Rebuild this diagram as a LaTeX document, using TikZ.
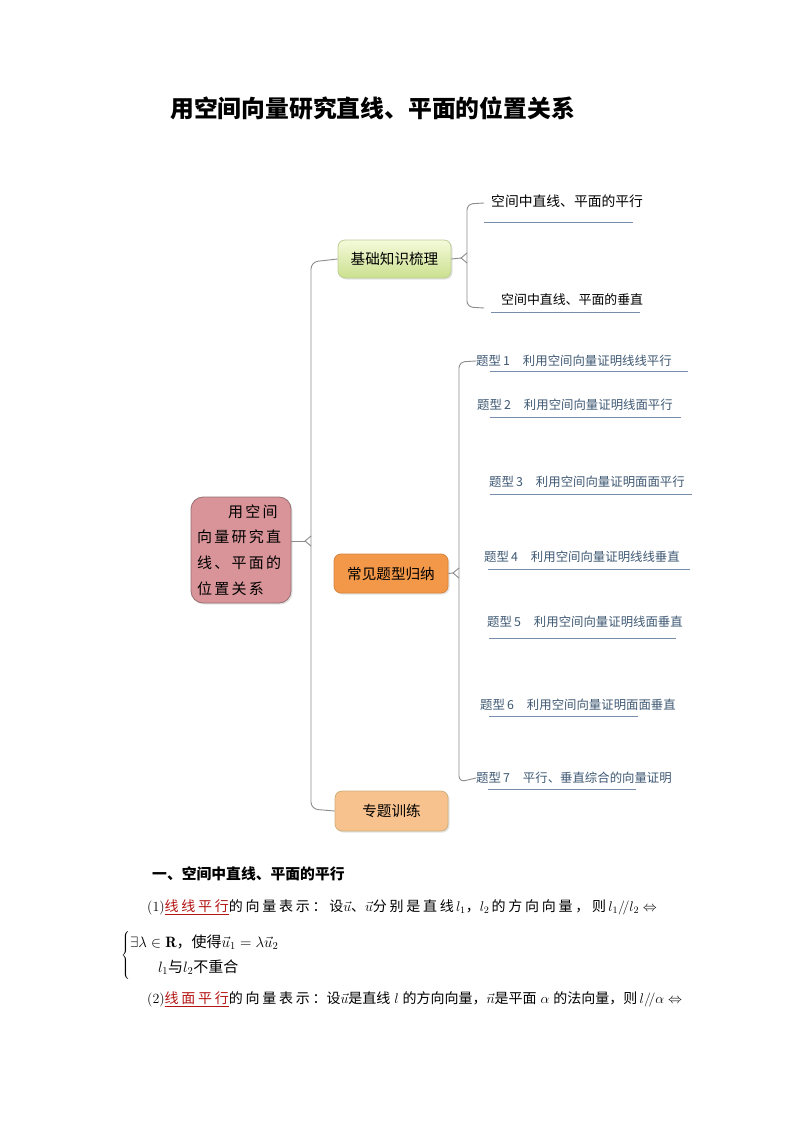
\RequirePackage{fix-cm}
\documentclass[tikz,border=0pt]{standalone}
\usepackage{fontspec}
\newfontfamily\cjk{Noto Sans CJK SC}
\newfontfamily\cjks[LetterSpace=19.5]{Noto Sans CJK SC}
\newfontfamily\cjkt[LetterSpace=0]{Noto Sans CJK SC}
\newfontfamily\cjkr[LetterSpace=15]{Noto Sans CJK SC}
\usetikzlibrary{shadows}
\definecolor{conncol}{RGB}{140,140,140}
\definecolor{ulcol}{RGB}{120,140,172}
\definecolor{topiccol}{RGB}{62,88,115}
\definecolor{rootfill}{RGB}{216,148,152}
\definecolor{rootdraw}{RGB}{150,112,116}
\definecolor{greentop}{RGB}{244,250,218}
\definecolor{greenbot}{RGB}{202,224,142}
\definecolor{greendraw}{RGB}{190,206,150}
\definecolor{orfill}{RGB}{243,152,72}
\definecolor{ordraw}{RGB}{214,132,62}
\definecolor{ltorfill}{RGB}{248,194,142}
\definecolor{ltordraw}{RGB}{205,176,122}
\definecolor{darkred}{RGB}{180,20,20}
\begin{document}
\begin{tikzpicture}[x=1pt,y=-1pt,
  conn/.style={draw=conncol, line width=0.9pt, rounded corners=7pt},
  wedge/.style={draw=conncol, line width=0.9pt},
  uline/.style={draw=ulcol, line width=0.8pt},
  mbox/.style={rounded corners=7pt, text=black, font=\cjk\fontsize{14.6}{17}\selectfont,
    drop shadow={opacity=0.22, shadow xshift=1.5pt, shadow yshift=-1.5pt}},
  topic/.style={anchor=west, inner sep=0pt, text=topiccol, font=\cjk\fontsize{12.4}{14}\selectfont},
  kn/.style={anchor=west, inner sep=0pt, text=black},
  body/.style={anchor=west, inner sep=0pt, text=black, font=\fontsize{14}{16}\selectfont}
]
\useasboundingbox[fill=white] (0,0) rectangle (794,1123);

% title
\node[inner sep=0pt, font=\cjk\bfseries\fontsize{23.8}{28}\selectfont] (title) at (372.5,108) {用空间向量研究直线、平面的位置关系};

% root
\node[mbox, fill=rootfill, draw=rootdraw, line width=0.8pt, rounded corners=12pt,
  minimum width=100, minimum height=106, text width=88, align=left,
  font=\cjkr\fontsize{15}{25.7}\selectfont] (root) at (241,550)
  {\hspace*{31pt}用空间\\向量研究直\\线、平面的\\位置关系};

% level-1 nodes
\node[mbox, top color=greentop, bottom color=greenbot, draw=greendraw, line width=0.8pt,
  minimum width=113, minimum height=38] (basic) at (394.5,259) {基础知识梳理};
\node[mbox, fill=orfill, draw=ordraw, line width=0.8pt,
  minimum width=114, minimum height=39] (types) at (391,573.5) {常见题型归纳};
\node[mbox, fill=ltorfill, draw=ltordraw, line width=0.8pt,
  minimum width=113, minimum height=40] (train) at (391.5,811) {专题训练};

% main bracket
\draw[conn] (basic.west) -- (311,262) -- (311,809) -- (train.west);
\coordinate (rj) at (305,541);
\draw[wedge] ([yshift=9pt]root.east) -- (rj);
\draw[wedge] (311,536) -- (rj) -- (311,546);

% basic knowledge branch
\node[kn, font=\cjk\fontsize{13.8}{16}\selectfont] (k1) at (491,201) {空间中直线、平面的平行};
\node[kn, font=\cjk\fontsize{12.9}{15}\selectfont] (k2) at (501,300) {空间中直线、平面的垂直};
\coordinate (k1e) at (484,203);
\coordinate (k2e) at (484,308);
\coordinate (bj) at (461,258);
\draw[wedge] (basic.east) -- (bj);
\draw[wedge] (467,253) -- (bj) -- (467,263);
\draw[conn, rounded corners=6pt] (k1e) -- (467,204) -- (467,307) -- (k2e);
\draw[uline] (484,222) -- (633,222);
\draw[uline] (491,312) -- (640,312);

% question types
\node[topic] (t1) at (476,361) {题型\,1\hspace{13pt}利用空间向量证明线线平行};
\node[topic] (t2) at (477,405) {题型\,2\hspace{13pt}利用空间向量证明线面平行};
\node[topic] (t3) at (489,482) {题型\,3\hspace{13pt}利用空间向量证明面面平行};
\node[topic] (t4) at (484,557) {题型\,4\hspace{13pt}利用空间向量证明线线垂直};
\node[topic] (t5) at (487,622) {题型\,5\hspace{13pt}利用空间向量证明线面垂直};
\node[topic] (t6) at (480,705) {题型\,6\hspace{13pt}利用空间向量证明面面垂直};
\node[topic] (t7) at (476,778) {题型\,7\hspace{13pt}平行、垂直综合的向量证明};
\coordinate (tj) at (453,573);
\draw[wedge] (types.east) -- (tj);
\draw[wedge] (459,568) -- (tj) -- (459,578);
\draw[conn, rounded corners=6pt] (t1.west) -- (459,362) -- (459,782) -- (t7.west);
\draw[uline] (490,371) -- (688,371);
\draw[uline] (490,417) -- (681,417);
\draw[uline] (490,494) -- (692,494);
\draw[uline] (488,569) -- (690,569);
\draw[uline] (489,638) -- (676,638);
\draw[uline] (489,716) -- (638,716);
\draw[uline] (488,789) -- (636,789);

% text below
\node[kn, font=\cjk\bfseries\fontsize{14.8}{17}\selectfont] (h1) at (152,874) {一、空间中直线、平面的平行};
\node[body] (p1) at (147,907) {(1)\textcolor{darkred}{\underline{\cjks 线线平行}}{\cjks 的向量表示：设}$\vec{u}${\cjks 、}$\vec{u}${\cjks 分别是直线}$\,l_1${\cjks ，}$l_2\,${\cjks 的方向向量，则}$\,l_1/\!/l_2\Leftrightarrow$};
\node[kn, font=\fontsize{15}{25}\selectfont] (sys) at (121,955) {$\left\{\begin{array}{@{}l@{}}\exists\lambda\in\mathbf{R}\mbox{\cjk ，使得}\vec{u}_1=\lambda\vec{u}_2\\ \hspace{28pt}l_1\mbox{\cjk 与}l_2\mbox{\cjk 不重合}\end{array}\right.$};
\node[body] (p2) at (147,999) {(2)\textcolor{darkred}{\underline{\cjks 线面平行}}{\cjks 的向量表示：}{\cjkt 设}$\vec{u}${\cjkt 是直线}$\;l\;${\cjkt 的方向向量，}$\vec{n}${\cjkt 是平面}$\;\alpha\;${\cjkt 的法向量，则}$\,l/\!/\alpha\Leftrightarrow$};
\end{tikzpicture}
\end{document}
